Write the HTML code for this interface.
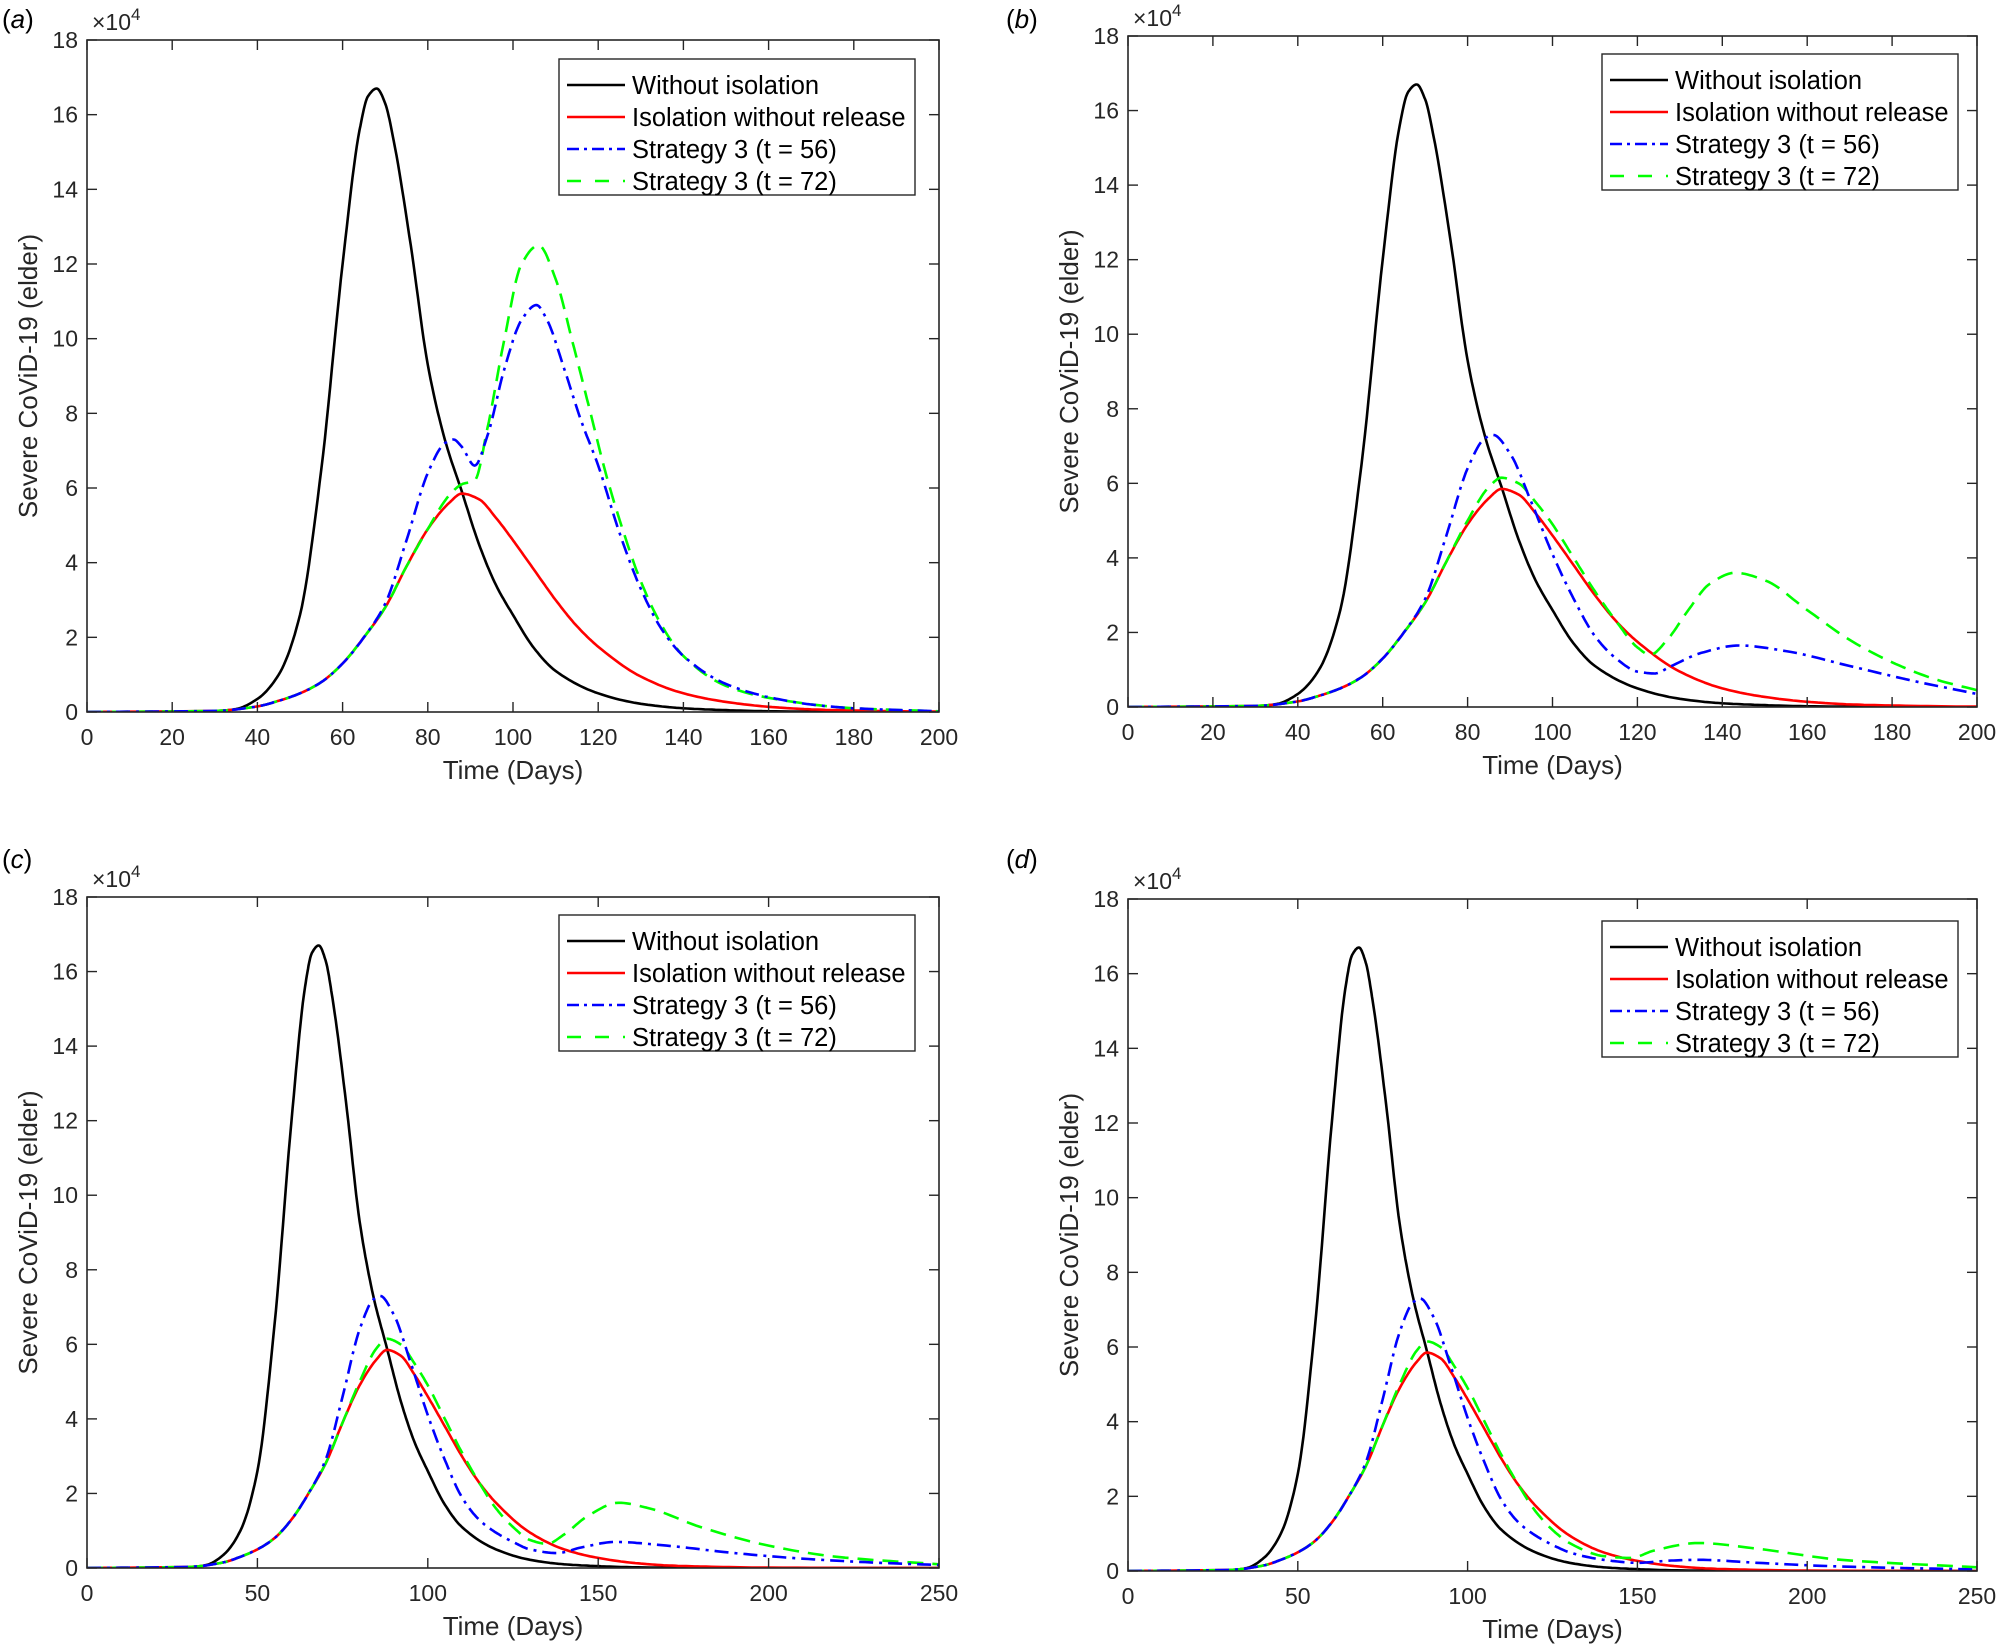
<!DOCTYPE html>
<html><head><meta charset="utf-8"><style>
html,body{margin:0;padding:0;background:#fff;}
svg{display:block;font-family:"Liberation Sans",Arial,sans-serif;}
</style></head><body>
<svg id="fig" width="2000" height="1651" viewBox="0 0 2000 1651" xmlns="http://www.w3.org/2000/svg"></svg>
<script>
// ---- shared data (values in units of 1e4) ----
const blackDays = [0,30,35,40,45,50,55,60,64,66,68,70,72,76,80,84,88,92,96,100,105,110,120,130,140,150,160,180,200,250];
const blackVals = [0,0.02,0.08,0.35,1.0,2.6,6.5,12.0,15.6,16.5,16.7,16.3,15.3,12.5,9.3,7.3,5.9,4.5,3.4,2.6,1.7,1.1,0.5,0.22,0.1,0.05,0.02,0.005,0,0];
const redDays = [0,30,40,45,50,55,60,65,70,75,80,85,88,92,96,100,105,110,115,120,130,140,150,160,170,180,200,250];
const redVals = [0,0.03,0.15,0.3,0.5,0.8,1.3,2.0,2.8,3.9,4.9,5.6,5.85,5.7,5.2,4.6,3.8,3.0,2.3,1.75,0.95,0.5,0.27,0.14,0.07,0.04,0.01,0];
// panel a
const blueDaysA = [0,30,40,45,50,55,60,65,70,75,80,84,86,88,91,94,98,102,105.5,108,112,116,120,125,130,135,140,150,160,170,180,200];
const blueValsA = [0,0.03,0.15,0.3,0.5,0.8,1.3,2.0,2.9,4.6,6.4,7.2,7.3,7.1,6.6,7.4,9.2,10.5,10.9,10.5,9.2,7.8,6.6,4.8,3.3,2.2,1.5,0.75,0.4,0.2,0.1,0.02];
const greenDaysA = [0,30,40,45,50,55,60,65,70,75,80,85,88,91,94,98,102,106,110,114,118,122,126,130,135,140,150,160,180,200];
const greenValsA = [0,0.03,0.15,0.3,0.5,0.8,1.3,2.0,2.8,3.9,4.9,5.8,6.1,6.2,7.6,10.0,12.0,12.5,11.6,9.9,8.1,6.3,4.8,3.5,2.3,1.5,0.7,0.38,0.1,0.02];
// panel b
const blueDaysB = [0,30,40,45,50,55,60,65,70,75,80,84,86,90,95,100,105,110,115,120,124,128,135,144,155,170,185,200];
const blueValsB = [0,0.03,0.15,0.3,0.5,0.8,1.3,2.0,2.9,4.6,6.4,7.2,7.3,6.8,5.5,4.1,2.9,1.9,1.3,0.95,0.9,1.1,1.45,1.65,1.5,1.1,0.7,0.35];
const greenDaysB = [0,30,40,45,50,55,60,65,70,75,80,85,88,92,96,100,105,110,115,120,123,127,132,137,143,150,160,170,180,190,200];
const greenValsB = [0,0.03,0.15,0.3,0.5,0.8,1.3,2.0,2.8,3.9,5.0,5.9,6.15,6.0,5.5,4.9,4.0,3.1,2.3,1.6,1.4,1.8,2.6,3.3,3.6,3.4,2.6,1.8,1.2,0.75,0.45];
// panel c
const blueDaysC = [0,30,40,45,50,55,60,65,70,75,80,84,86,90,95,100,105,110,115,120,125,130,138,145,155,170,190,210,230,250];
const blueValsC = [0,0.03,0.15,0.3,0.5,0.8,1.3,2.0,2.9,4.6,6.4,7.2,7.3,6.8,5.5,4.1,2.9,1.9,1.3,0.95,0.7,0.5,0.4,0.55,0.7,0.6,0.4,0.25,0.15,0.08];
const greenDaysC = [0,30,40,45,50,55,60,65,70,75,80,85,88,92,96,100,105,110,115,120,125,130,135,140,147,156,165,180,200,220,250];
const greenValsC = [0,0.03,0.15,0.3,0.5,0.8,1.3,2.0,2.8,3.9,5.0,5.9,6.15,6.0,5.5,4.9,4.0,3.1,2.3,1.6,1.1,0.75,0.65,0.9,1.4,1.75,1.6,1.1,0.6,0.3,0.1];
// panel d
const blueDaysD = [0,30,40,45,50,55,60,65,70,75,80,84,86,90,95,100,105,110,115,120,125,130,140,150,160,168,185,210,250];
const blueValsD = [0,0.03,0.15,0.3,0.5,0.8,1.3,2.0,2.9,4.6,6.4,7.2,7.3,6.8,5.5,4.1,2.9,1.9,1.3,0.95,0.7,0.5,0.3,0.22,0.28,0.3,0.22,0.12,0.04];
const greenDaysD = [0,30,40,45,50,55,60,65,70,75,80,85,88,92,96,100,105,110,115,120,125,130,140,148,155,168,185,210,250];
const greenValsD = [0,0.03,0.15,0.3,0.5,0.8,1.3,2.0,2.8,3.9,5.0,5.9,6.15,6.0,5.5,4.9,4.0,3.1,2.3,1.6,1.1,0.75,0.4,0.35,0.55,0.75,0.6,0.3,0.1];
// ticks
const yTicks = [0,2,4,6,8,10,12,14,16,18];
const xTicks200 = [0,20,40,60,80,100,120,140,160,180,200];
const xTicks250 = [0,50,100,150,200,250];
const legendLabels = ["Without isolation","Isolation without release","Strategy 3 (t = 56)","Strategy 3 (t = 72)"];

const NS="http://www.w3.org/2000/svg";
const svg=document.getElementById('fig');
function mk(tag,attrs,parent){const e=document.createElementNS(NS,tag);for(const k in attrs)e.setAttribute(k,attrs[k]);(parent||svg).appendChild(e);return e;}

// monotone cubic (Fritsch-Carlson) interpolation in data space
function pathFrom(xd,yd,xs,ys){
  const n=xd.length,d=[],m=new Array(n);
  for(let i=0;i<n-1;i++)d.push((yd[i+1]-yd[i])/(xd[i+1]-xd[i]));
  m[0]=d[0];m[n-1]=d[n-2];
  for(let i=1;i<n-1;i++){
    if(d[i-1]*d[i]<=0)m[i]=0;
    else{const h0=xd[i]-xd[i-1],h1=xd[i+1]-xd[i];const w1=2*h1+h0,w2=h1+2*h0;m[i]=(w1+w2)/(w1/d[i-1]+w2/d[i]);}
  }
  let s='M'+xs(xd[0]).toFixed(1)+','+ys(yd[0]).toFixed(1);
  for(let i=0;i<n-1;i++){
    const h=xd[i+1]-xd[i];
    for(let k=1;k<=12;k++){
      const t=k/12,t2=t*t,t3=t2*t;
      const v=(2*t3-3*t2+1)*yd[i]+(t3-2*t2+t)*h*m[i]+(-2*t3+3*t2)*yd[i+1]+(t3-t2)*h*m[i+1];
      s+=' L'+xs(xd[i]+t*h).toFixed(1)+','+ys(v).toFixed(1);
    }
  }
  return s;
}

function panel(cfg){
  const g=mk('g',{});
  
  
  const L=cfg.l,R=cfg.r,T=cfg.t,B=cfg.b;
  const xs=v=>L+(v-0)/(cfg.xmax)*(R-L);
  const ys=v=>B-v/18*(B-T);
  const clipId='clip'+cfg.id;
  const cp=mk('clipPath',{id:clipId},g);mk('rect',{x:L,y:T,width:R-L,height:B-T},cp);
  const series=[
    [blackDays,blackVals,'#000','none','without-isolation-line'],
    [redDays,redVals,'#ff0000','none','isolation-without-release-line'],
    [cfg.bd,cfg.bv,'#0000ff','14 6 3 6','strategy3-t56-line'],
    [cfg.gd,cfg.gv,'#00ff00','16 9','strategy3-t72-line']
  ];
  [0,1,3,2].forEach(i=>{const s=series[i];
    const p=mk('path',{d:pathFrom(s[0],s[1],xs,ys),fill:'none',stroke:s[2],'stroke-width':2.6,'stroke-dasharray':s[3],'stroke-linejoin':'round','clip-path':'url(#'+clipId+')'},g);
    
    
  });
  const box=mk('rect',{x:L,y:T,width:R-L,height:B-T,fill:'none',stroke:'#262626','stroke-width':1.6},g);
  
  
  yTicks.forEach(v=>{const y=ys(v);
    mk('line',{x1:L,x2:L+10,y1:y,y2:y,stroke:'#262626','stroke-width':1.4},g);
    mk('line',{x1:R,x2:R-10,y1:y,y2:y,stroke:'#262626','stroke-width':1.4},g);
    const t=mk('text',{x:L-9,y:y+8,'text-anchor':'end','font-size':23,fill:'#262626'},g);t.textContent=v;
    
    
  });
  cfg.xt.forEach(v=>{const x=xs(v);
    mk('line',{x1:x,x2:x,y1:B,y2:B-10,stroke:'#262626','stroke-width':1.4},g);
    mk('line',{x1:x,x2:x,y1:T,y2:T+10,stroke:'#262626','stroke-width':1.4},g);
    const t=mk('text',{x:x,y:B+33,'text-anchor':'middle','font-size':23,fill:'#262626'},g);t.textContent=v;
    
    
  });
  const ex=mk('text',{x:L+5,y:T-10,'font-size':23,fill:'#262626'},g);
  ex.innerHTML='\u00d710<tspan dy="-10" font-size="17">4</tspan>';
  
  
  const xl=mk('text',{x:(L+R)/2,y:B+67,'text-anchor':'middle','font-size':26,fill:'#262626'},g);xl.textContent='Time (Days)';
  
  
  const yl=mk('text',{x:0,y:0,'text-anchor':'middle','font-size':26,fill:'#262626',transform:'translate('+(L-50)+','+((T+B)/2)+') rotate(-90)'},g);yl.textContent='Severe CoViD-19 (elder)';
  
  
  const pl=mk('text',{x:cfg.lx,y:cfg.ly,'font-size':26,fill:'#000'},g);
  pl.innerHTML='(<tspan font-style="italic">'+cfg.id+'</tspan>)';
  
  
  const lg=mk('g',{},g);
  
  
  mk('rect',{x:cfg.gx,y:cfg.gy,width:356,height:136,fill:'#fff',stroke:'#262626','stroke-width':1.4},lg);
  legendLabels.forEach((lab,i)=>{const s=series[i];const y=cfg.gy+26+i*32;
    mk('line',{x1:cfg.gx+8,x2:cfg.gx+66,y1:y,y2:y,stroke:s[2],'stroke-width':2.6,'stroke-dasharray':i==2?'12 5 3 5':(i==3?'14 14':'none')},lg);
    const t=mk('text',{x:cfg.gx+73,y:y+9,'font-size':25.5,fill:'#000'},lg);t.textContent=lab;
    
    
  });
}
panel({id:'a',l:87,r:939,t:40,b:712,xmax:200,xt:xTicks200,bd:blueDaysA,bv:blueValsA,gd:greenDaysA,gv:greenValsA,lx:2,ly:28,gx:559,gy:59});
panel({id:'b',l:1128,r:1977,t:36,b:707,xmax:200,xt:xTicks200,bd:blueDaysB,bv:blueValsB,gd:greenDaysB,gv:greenValsB,lx:1006,ly:28,gx:1602,gy:54});
panel({id:'c',l:87,r:939,t:897,b:1568,xmax:250,xt:xTicks250,bd:blueDaysC,bv:blueValsC,gd:greenDaysC,gv:greenValsC,lx:2,ly:868,gx:559,gy:915});
panel({id:'d',l:1128,r:1977,t:899,b:1571,xmax:250,xt:xTicks250,bd:blueDaysD,bv:blueValsD,gd:greenDaysD,gv:greenValsD,lx:1006,ly:868,gx:1602,gy:921});
</script>
</body></html>
